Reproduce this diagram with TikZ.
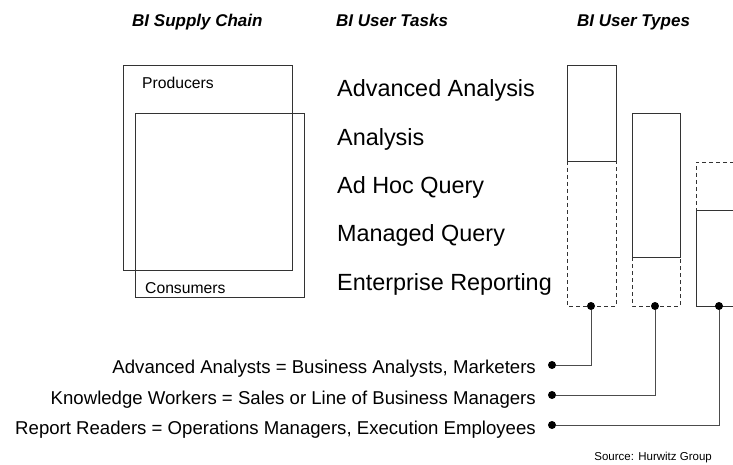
\documentclass[tikz,border=0pt]{standalone}
\usepackage{fontspec}
\setmainfont{Liberation Sans}
\usetikzlibrary{positioning}
\tikzset{>=stealth}
\tikzset{
  header/.style={font=\fontsize{17}{20}\selectfont\bfseries\itshape, inner sep=0, anchor=base west},
  task/.style={font=\fontsize{23.4}{28}\selectfont, inner sep=0, anchor=base west},
  role/.style={font=\fontsize{18.6}{22}\selectfont, inner sep=0, anchor=base east},
  boxlabel/.style={font=\fontsize{15.7}{19}\selectfont, inner sep=0, anchor=base west},
  frame/.style={line width=0.8pt, black!80},
  part/.style={frame, dash pattern=on 4pt off 3pt},
  dot/.style={circle, fill=black, inner sep=0, minimum size=8pt},
  wire/.style={line width=0.8pt, black!70},
}

\begin{document}
\begin{tikzpicture}[x=1pt,y=-1pt]
        \useasboundingbox (0,0) rectangle (733,465);
        % column headers
        \node[header] (hchain) at (132,27) {BI Supply Chain};
        \node[header] (htasks) at (336,27) {BI User Tasks};
        \node[header] (htypes) at (577,27) {BI User Types};
        % supply chain
        \draw[frame] (123,65) rectangle (292,270);
        \draw[frame] (135,113) rectangle (304,297);
        \node[boxlabel] (prod) at (142,89) {Producers};
        \node[boxlabel] (cons) at (145,293) {Consumers};
        % user tasks
        \node[task] (t1) at (337,97) {Advanced Analysis};
        \node[task] (t2) at (337,145.25) {Analysis};
        \node[task] (t3) at (337,193.5) {Ad Hoc Query};
        \node[task] (t4) at (337,241.75) {Managed Query};
        \node[task] (t5) at (337,290) {Enterprise Reporting};
        % user types
        \draw[frame] (567,65) rectangle (616,161);
        \draw[part] (567,161) -- (567,306) -- (616,306) -- (616,161);
        \draw[frame] (632,113) rectangle (680,257);
        \draw[part] (632,257) -- (632,306) -- (680,306) -- (680,257);
        \draw[part] (734,162) -- (696,162) -- (696,210);
        \draw[frame] (734,210) -- (696,210) -- (696,306) -- (734,306);
        \node[dot] (d1) at (591,306) {};
        \node[dot] (d2) at (655,306) {};
        \node[dot] (d3) at (719,306) {};
        % legend
        \node[dot] (e1) at (552,365) {};
        \node[dot] (e2) at (552,395) {};
        \node[dot] (e3) at (552,425) {};
        \node[role] (r1) at ([xshift=-16pt,yshift=-8pt]e1.center) {Advanced Analysts = Business Analysts, Marketers};
        \node[role] (r2) at ([xshift=-16pt,yshift=-9pt]e2.center) {Knowledge Workers = Sales or Line of Business Managers};
        \node[role] (r3) at ([xshift=-16pt,yshift=-9pt]e3.center) {Report Readers = Operations Managers, Execution Employees};
        \draw[wire] (d1) |- (e1);
        \draw[wire] (d2) |- (e2);
        \draw[wire] (d3) |- (e3);
        \node[font=\fontsize{11.5}{14}\selectfont, inner sep=0, anchor=base east] (src) at (712,460) {Source: Hurwitz Group};
\end{tikzpicture}
\end{document}
